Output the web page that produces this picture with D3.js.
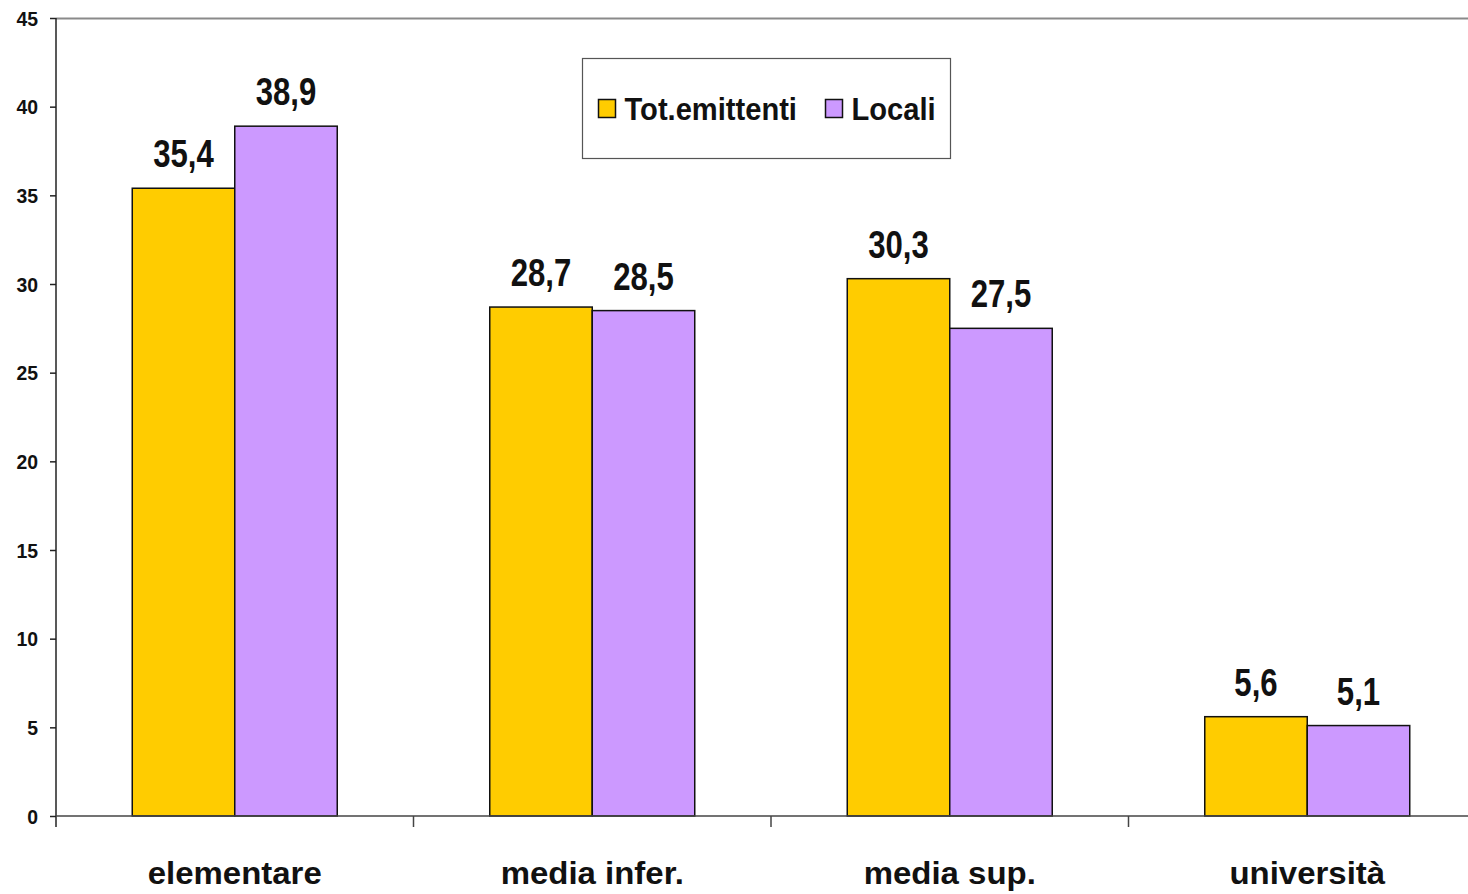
<!DOCTYPE html>
<html>
<head>
<meta charset="utf-8">
<script src="https://cdn.jsdelivr.net/npm/d3@7"></script>
<style>
  html, body { margin: 0; padding: 0; background: #fff; }
  svg { display: block; font-family: "Liberation Sans Narrow", "Liberation Sans", Arial, sans-serif; font-weight: bold; }
</style>
</head>
<body>
<svg id="chart" width="1468" height="894"></svg>
<script>
// Titolo di studio: quota per tipo di emittente
const categories = ["elementare", "media infer.", "media sup.", "università"];
const seriesNames = ["Tot.emittenti", "Locali"];
const totEmittenti = [35.4, 28.7, 30.3, 5.6];
const locali = [38.9, 28.5, 27.5, 5.1];
const yTicks = [0, 5, 10, 15, 20, 25, 30, 35, 40, 45];
const colors = ["#FFCC00", "#CC99FF"];

(function draw() {
  const rows = categories.map((c, i) => ({ cat: c, values: [totEmittenti[i], locali[i]] }));

  const svg = d3.select("#chart");
  const plotLeft = 56, plotTop = 18, plotBottom = 816, step = 357.5;

  const x = d3.scaleBand().domain(categories).range([plotLeft, plotLeft + step * categories.length]).padding(0);
  const xs = d3.scaleBand().domain(seriesNames).range([0, x.bandwidth()]).paddingInner(0).paddingOuter(0.744);
  const y = d3.scaleLinear().domain([0, 45]).range([plotBottom, plotTop]);

  // condensed bold text: positioned at (tx, ty), squeezed horizontally by sx
  function label(parent, tx, ty, str, size, sx, anchor) {
    return parent.append("text")
      .attr("transform", `translate(${tx},${ty}) scale(${sx},1)`)
      .attr("text-anchor", anchor || "middle")
      .attr("font-size", size).attr("font-weight", "bold").attr("fill", "#111")
      .text(str);
  }

  // top frame line
  svg.append("line").attr("x1", plotLeft).attr("x2", 1468).attr("y1", plotTop + 0.5).attr("y2", plotTop + 0.5)
    .attr("stroke", "#8a8a8a").attr("stroke-width", 2);

  // y axis
  const yAxis = svg.append("g").attr("transform", `translate(${plotLeft},0)`)
    .call(d3.axisLeft(y).tickValues(yTicks).tickSize(6).tickFormat(d3.format("d")));
  yAxis.select(".domain").remove();
  yAxis.selectAll(".tick line").attr("stroke", "#222").attr("stroke-width", 1.5);
  yAxis.selectAll(".tick text").remove();
  yAxis.selectAll(".tick").each(function (d) {
    label(d3.select(this), -18, 7, d3.format("d")(d), 20, 0.97, "end");
  });
  yAxis.attr("font-family", null).attr("font-size", null);
  svg.append("line").attr("x1", plotLeft).attr("x2", plotLeft).attr("y1", plotTop).attr("y2", plotBottom + 11)
    .attr("stroke", "#222").attr("stroke-width", 1.5);

  // bars
  const groups = svg.append("g").selectAll("g").data(rows).join("g")
    .attr("transform", d => `translate(${x(d.cat)},0)`);
  const cells = d => d.values.map((v, i) => ({ key: seriesNames[i], v, i }));
  groups.selectAll("rect").data(cells).join("rect")
    .attr("x", d => xs(d.key))
    .attr("y", d => y(d.v))
    .attr("width", xs.bandwidth())
    .attr("height", d => plotBottom - y(d.v))
    .attr("fill", d => colors[d.i])
    .attr("stroke", "#111").attr("stroke-width", 1.5);

  // value labels
  groups.each(function (row) {
    const g = d3.select(this);
    cells(row).forEach(d => {
      label(g, xs(d.key) + xs.bandwidth() / 2, y(d.v) - 21,
        d3.format(".1f")(d.v).replace(".", ","), 38, 0.82);
    });
  });

  // x axis
  svg.append("line").attr("x1", plotLeft).attr("x2", 1468).attr("y1", plotBottom).attr("y2", plotBottom)
    .attr("stroke", "#444").attr("stroke-width", 1.5);
  categories.forEach((c, i) => {
    if (i > 0) {
      svg.append("line").attr("x1", x(c)).attr("x2", x(c)).attr("y1", plotBottom).attr("y2", plotBottom + 11)
        .attr("stroke", "#444").attr("stroke-width", 1.5);
    }
    label(svg, x(c) + x.bandwidth() / 2, 884, c, 32, 1.03);
  });

  // legend
  const lg = svg.append("g").attr("transform", "translate(582.5,58.5)");
  lg.append("rect").attr("width", 368).attr("height", 100).attr("fill", "#fff")
    .attr("stroke", "#555").attr("stroke-width", 1.2);
  const legendX = [16, 243];
  seriesNames.forEach((s, i) => {
    lg.append("rect").attr("x", legendX[i]).attr("y", 41).attr("width", 17).attr("height", 18)
      .attr("fill", colors[i]).attr("stroke", "#111").attr("stroke-width", 1.5);
    label(lg, legendX[i] + 26, 61.5, s, 32, 0.91, "start");
  });
})();
</script>
</body>
</html>
